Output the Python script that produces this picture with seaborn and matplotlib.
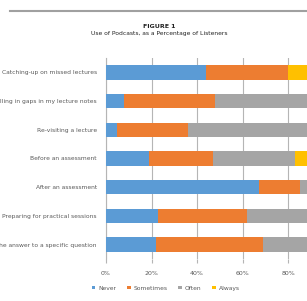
import pandas as pd
import seaborn as sns
import matplotlib.pyplot as plt
from matplotlib.patches import Patch

# Survey answers (% of listeners)
uses = [
    "Catching-up on missed lectures",
    "Filling in gaps in my lecture notes",
    "Re-visiting a lecture",
    "Before an assessment",
    "After an assessment",
    "Preparing for practical sessions",
    "Finding the answer to a specific question",
]
never = [44, 8, 5, 19, 67, 23, 22]
sometimes = [36, 40, 31, 28, 18, 39, 47]
often = [0, 44, 57, 36, 13, 33, 27]
always = [20, 8, 7, 17, 2, 5, 4]

series = ["Never", "Sometimes", "Often", "Always"]
colors = ["#5B9BD5", "#ED7D31", "#A5A5A5", "#FFC000"]

df = pd.DataFrame({"use": uses, "Never": never, "Sometimes": sometimes,
                   "Often": often, "Always": always})

# Cumulative sums so the bars stack
cum = df[series].cumsum(axis=1)

fig = plt.figure(figsize=(3.07, 3.01), dpi=100)
ax = fig.add_axes([0.345, 0.14, 0.655, 0.667])

for name, col in reversed(list(zip(series, colors))):
    sns.barplot(x=cum[name], y=df["use"], color=col, orient="h",
                width=0.5, saturation=1, ax=ax, zorder=3)

ax.set_xlim(0, 88.2)
ax.set_xticks([0, 20, 40, 60, 80])
ax.set_xticklabels([f"{v}%" for v in [0, 20, 40, 60, 80]])
ax.grid(axis="x", color="#B5B5B5", linewidth=0.8, zorder=0)
ax.set_axisbelow(True)
ax.set_xlabel("")
ax.set_ylabel("")

for s in ["top", "right", "bottom"]:
    ax.spines[s].set_visible(False)
ax.spines["left"].set_color("#B5B5B5")
ax.spines["left"].set_linewidth(0.8)

ax.tick_params(axis="y", length=0, pad=6.5, labelsize=4.3, labelcolor="#595959")
ax.tick_params(axis="x", length=3, color="#B5B5B5", pad=6, labelsize=4.5,
               labelcolor="#595959")

handles = [Patch(facecolor=c, label=n) for n, c in zip(series, colors)]
fig.legend(handles=handles, loc="center", bbox_to_anchor=(0.54, 0.043),
           ncol=4, frameon=False, fontsize=4.3, handlelength=0.6,
           handleheight=0.6, columnspacing=1.8, handletextpad=0.5,
           labelcolor="#595959")

# Page rule and title
fig.add_artist(plt.Line2D([0.033, 1.0], [0.965, 0.965], color="#A0A0A0",
                          linewidth=1.5))
fig.text(0.52, 0.913, "FIGURE 1", ha="center", va="center", fontsize=4.5,
         fontweight="bold", color="#222222")
fig.text(0.52, 0.89, "Use of Podcasts, as a Percentage of Listeners",
         ha="center", va="center", fontsize=4.3, color="#222222")

plt.savefig("out.png", dpi=100)
